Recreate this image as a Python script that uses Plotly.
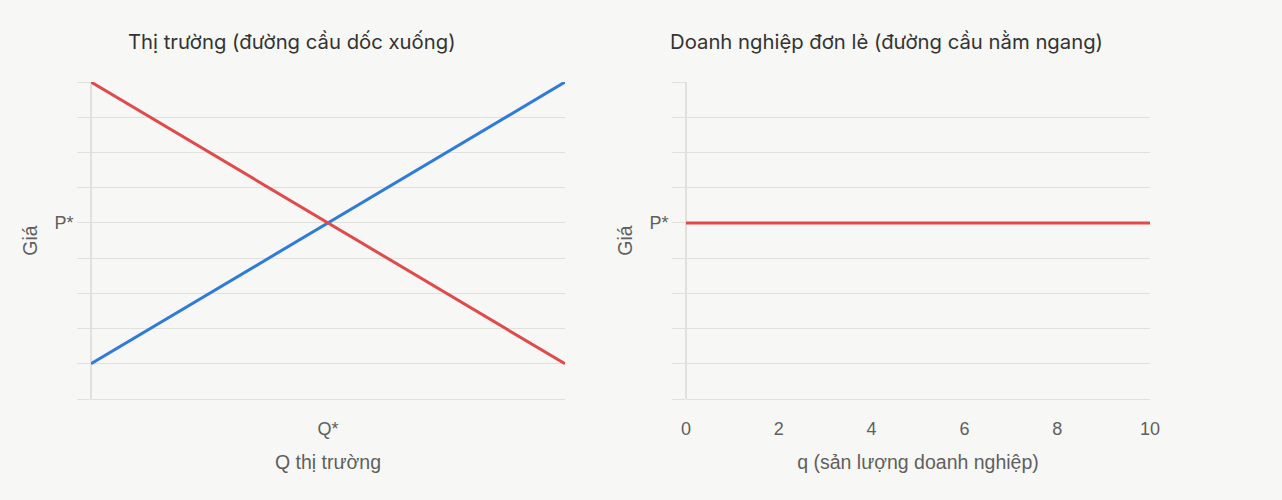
import plotly.graph_objects as go
from plotly.subplots import make_subplots

# Market (left)
market_q = [0, 10]
supply_p = [1, 9]
demand_p = [9, 1]
q_star = 5
p_star = 5

# Firm (right)
firm_q = [0, 10]
firm_p = [5, 5]

price_ticks = list(range(10))
price_text = ["P*" if v == p_star else "" for v in price_ticks]
firm_q_ticks = [0, 2, 4, 6, 8, 10]

titles = ["Thị trường (đường cầu dốc xuống)", "Doanh nghiệp đơn lẻ (đường cầu nằm ngang)"]

BG = "#f7f7f5"
GRID = "#e1e1dc"
RED = "#e04a4a"
BLUE = "#2f7bd8"
TICKFONT = dict(family="Liberation Sans, Arial, sans-serif", size=18, color="#5f5f5f")
AXTITLEFONT = dict(family="Liberation Sans, Arial, sans-serif", size=19.5, color="#5f5f5f")
TITLEFONT = dict(family="Inter, sans-serif", size=20.3, color="#333333")

fig = make_subplots(rows=1, cols=2, horizontal_spacing=0.1)

fig.add_trace(go.Scatter(x=market_q, y=supply_p, mode="lines",
                         line=dict(color=BLUE, width=3), showlegend=False), 1, 1)
fig.add_trace(go.Scatter(x=market_q, y=demand_p, mode="lines",
                         line=dict(color=RED, width=3), showlegend=False), 1, 1)
fig.add_trace(go.Scatter(x=firm_q, y=firm_p, mode="lines",
                         line=dict(color=RED, width=3), showlegend=False), 1, 2)

W, H = 1282, 500
ml, mr, mt, mb = 91, 132, 82, 101
pw = W - ml - mr
d1 = (565 - ml) / pw
d2 = (686 - ml) / pw

yax = dict(range=[0, 9], tickvals=price_ticks, ticktext=price_text,
           showgrid=True, gridcolor=GRID, gridwidth=1,
           zeroline=True, zerolinecolor=GRID, zerolinewidth=1,
           ticks="outside", ticklen=13, tickcolor=GRID, tickwidth=1,
           tickfont=TICKFONT, showline=False,
           title=dict(text="Giá", font=AXTITLEFONT, standoff=11))

xcommon = dict(range=[0, 10], showgrid=False, zeroline=True, zerolinecolor=GRID,
               zerolinewidth=2, ticks="outside", ticklen=13, tickcolor="rgba(0,0,0,0)",
               tickfont=TICKFONT, showline=False)

fig.update_layout(
    width=W, height=H,
    margin=dict(l=ml, r=mr, t=mt, b=mb),
    paper_bgcolor=BG, plot_bgcolor=BG,
    xaxis=dict(xcommon, domain=[0, d1], tickvals=[q_star], ticktext=["Q*"],
               title=dict(text="Q thị trường", font=AXTITLEFONT, standoff=17)),
    xaxis2=dict(xcommon, domain=[d2, 1], tickvals=firm_q_ticks,
                title=dict(text="q (sản lượng doanh nghiệp)", font=AXTITLEFONT, standoff=17)),
    yaxis=yax,
    yaxis2=dict(yax),
)

# Titles
fig.add_annotation(text=titles[0], xref="paper", yref="paper",
                   x=(291.5 - ml) / pw, y=1, yshift=41, showarrow=False,
                   xanchor="center", yanchor="middle", font=TITLEFONT)
fig.add_annotation(text=titles[1], xref="paper", yref="paper",
                   x=(886.5 - ml) / pw, y=1, yshift=41, showarrow=False,
                   xanchor="center", yanchor="middle", font=TITLEFONT)

fig.write_html("out.html", config={"displayModeBar": False},
               post_script="document.body.style.margin='0';document.body.style.background='#f7f7f5';")
